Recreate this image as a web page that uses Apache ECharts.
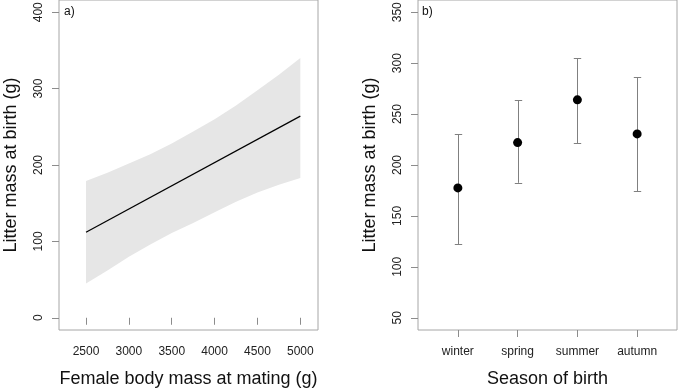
<!DOCTYPE html>
<html>
<head>
<meta charset="utf-8">
<script src="https://cdn.jsdelivr.net/npm/echarts@6/dist/echarts.min.js"></script>
<style>
html,body{margin:0;padding:0;background:#fff;}
#c{width:678px;height:389px;}
</style>
</head>
<body>
<div id="c"></div>
<script>
// Panel a) fitted line and confidence band
var massX = [2500, 2750, 3000, 3250, 3500, 3750, 4000, 4250, 4500, 4750, 5000];
var bandUpper = [179, 190, 202, 214, 228, 244, 260, 278, 298, 318, 340];
var bandLower = [45, 62, 80, 96, 111, 124, 138, 152, 164, 174, 183];
var fitX = [2500, 5000];
var fitY = [112, 264];
var xTicksA = [2500, 3000, 3500, 4000, 4500, 5000];
var yTicksA = [0, 100, 200, 300, 400];

// Panel b) season means with intervals
var seasons = ['winter', 'spring', 'summer', 'autumn'];
var seasonMean = [177.5, 222, 264, 230.5];
var seasonLow = [122, 182.5, 221.5, 174];
var seasonHigh = [230, 263.5, 305, 286];
var yTicksB = [50, 100, 150, 200, 250, 300, 350];

var FONT = "'Liberation Sans', Arial, sans-serif";
var BOX = '#a6a6a6';
var TICK = '#8c8c8c';

var chart = echarts.init(document.getElementById('c'), null, {renderer: 'canvas'});

var bandPoly = [];
for (var i = 0; i < massX.length; i++) bandPoly.push([massX[i], bandUpper[i]]);
for (var j = massX.length - 1; j >= 0; j--) bandPoly.push([massX[j], bandLower[j]]);

var fitData = fitX.map(function (x, k) { return [x, fitY[k]]; });
var meanData = seasonMean.map(function (v, k) { return [k + 1, v]; });
var errData = seasonMean.map(function (v, k) { return [k + 1, seasonLow[k], seasonHigh[k]]; });

function plain(v) { return String(v); }

function xAxisCommon(extra) {
  var o = {
    type: 'value',
    axisLine: {show: false},
    splitLine: {show: false},
    axisTick: {show: true, length: 7, inside: false, lineStyle: {color: TICK, width: 1}},
    axisLabel: {fontFamily: FONT, fontSize: 12, color: '#222', margin: 16, formatter: plain},
    nameLocation: 'middle',
    nameGap: 40,
    nameTextStyle: {fontFamily: FONT, fontSize: 18, color: '#111'}
  };
  for (var k in extra) {
    if (typeof extra[k] === 'object' && !Array.isArray(extra[k]) && o[k]) {
      for (var kk in extra[k]) o[k][kk] = extra[k][kk];
    } else o[k] = extra[k];
  }
  return o;
}

function yAxisCommon(idx, mn, mx, ticks) {
  return {
    type: 'value', gridIndex: idx, min: mn, max: mx,
    axisLine: {show: false}, splitLine: {show: false},
    axisTick: {show: true, length: 7, lineStyle: {color: TICK, width: 1}, customValues: ticks},
    axisLabel: {fontFamily: FONT, fontSize: 12, color: '#222', rotate: 90, margin: 14, customValues: ticks, formatter: plain},
    name: 'Litter mass at birth (g)', nameLocation: 'middle', nameGap: 39,
    nameTextStyle: {fontFamily: FONT, fontSize: 18, color: '#111'}
  };
}

var option = {
  animation: false,
  backgroundColor: '#fff',
  grid: [
    {left: 59, top: 0, width: 259, height: 330, show: true, borderColor: BOX, borderWidth: 1, backgroundColor: 'transparent', outerBoundsMode: 'none', containLabel: false},
    {left: 418, top: 0, width: 259, height: 330, show: true, borderColor: BOX, borderWidth: 1, backgroundColor: 'transparent', outerBoundsMode: 'none', containLabel: false}
  ],
  xAxis: [
    xAxisCommon({
      gridIndex: 0, min: 2185, max: 5206,
      name: 'Female body mass at mating (g)',
      axisTick: {customValues: xTicksA},
      axisLabel: {customValues: xTicksA}
    }),
    xAxisCommon({
      gridIndex: 1, min: 0.333, max: 4.667,
      name: 'Season of birth',
      axisTick: {customValues: [1, 2, 3, 4]},
      axisLabel: {customValues: [1, 2, 3, 4], formatter: function (v) { return seasons[Math.round(v) - 1] || ''; }}
    })
  ],
  yAxis: [
    yAxisCommon(0, -16, 416, yTicksA),
    yAxisCommon(1, 38, 362, yTicksB)
  ],
  series: [
    {
      type: 'custom', xAxisIndex: 0, yAxisIndex: 0, silent: true,
      data: [0],
      renderItem: function (params, api) {
        var pts = bandPoly.map(function (p) { return api.coord(p); });
        return {type: 'polygon', shape: {points: pts}, style: {fill: '#e6e6e6', stroke: null}};
      },
      z: 1
    },
    {
      type: 'line', xAxisIndex: 0, yAxisIndex: 0, data: fitData, symbol: 'none', silent: true,
      lineStyle: {color: '#000', width: 1.2}, z: 3
    },
    {
      type: 'custom', xAxisIndex: 1, yAxisIndex: 1, silent: true,
      data: errData,
      renderItem: function (params, api) {
        var x = api.value(0);
        var lo = api.coord([x, api.value(1)]);
        var hi = api.coord([x, api.value(2)]);
        var cx = Math.round(lo[0]) + 0.5;
        var w = 3.7;
        var st = {stroke: '#808080', lineWidth: 1};
        return {type: 'group', children: [
          {type: 'line', shape: {x1: cx, y1: lo[1], x2: cx, y2: hi[1]}, style: st},
          {type: 'line', shape: {x1: cx - w, y1: Math.round(lo[1]) + 0.5, x2: cx + w, y2: Math.round(lo[1]) + 0.5}, style: st},
          {type: 'line', shape: {x1: cx - w, y1: Math.round(hi[1]) + 0.5, x2: cx + w, y2: Math.round(hi[1]) + 0.5}, style: st}
        ]};
      },
      z: 2
    },
    {
      type: 'scatter', xAxisIndex: 1, yAxisIndex: 1, data: meanData, silent: true,
      symbol: 'circle', symbolSize: 9, itemStyle: {color: '#000', opacity: 1}, z: 4
    }
  ],
  graphic: [
    {type: 'text', left: 64, top: 6, style: {text: 'a)', font: "12px 'Liberation Sans', Arial, sans-serif", fill: '#111'}},
    {type: 'text', left: 422, top: 6, style: {text: 'b)', font: "12px 'Liberation Sans', Arial, sans-serif", fill: '#111'}}
  ]
};
chart.setOption(option);
</script>
</body>
</html>
